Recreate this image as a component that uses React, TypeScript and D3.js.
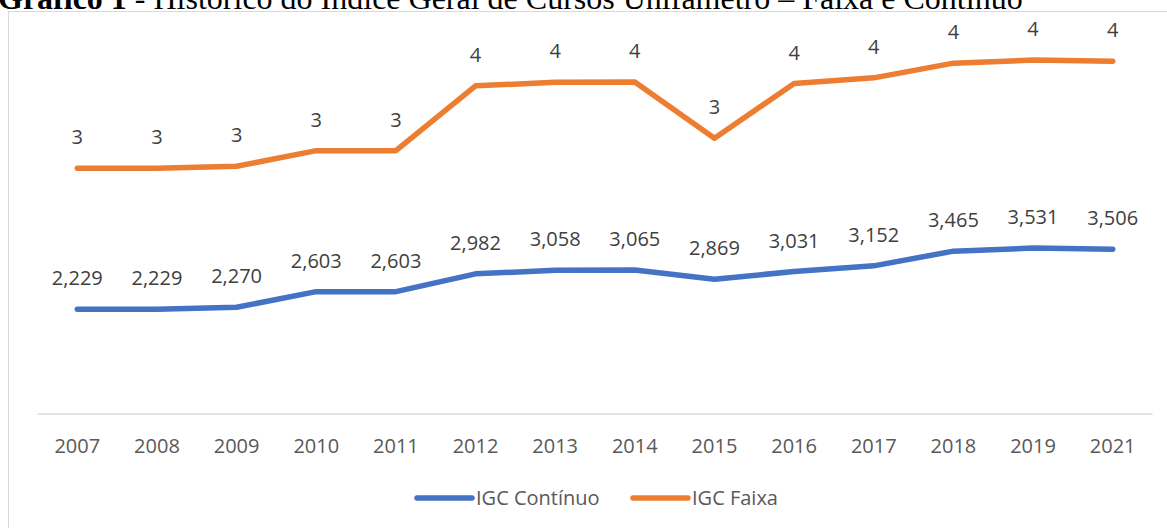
import { useRef, useEffect } from 'react'
import * as d3 from 'd3'

const years = ['2007', '2008', '2009', '2010', '2011', '2012', '2013', '2014', '2015', '2016', '2017', '2018', '2019', '2021']
const igcContinuo = [2.229, 2.229, 2.27, 2.603, 2.603, 2.982, 3.058, 3.065, 2.869, 3.031, 3.152, 3.465, 3.531, 3.506]
const igcFaixa = [3, 3, 3, 3, 3, 4, 4, 4, 3, 4, 4, 4, 4, 4]
const seriesNames = ['IGC Contínuo', 'IGC Faixa']
const colors = ['#4472C4', '#ED7D31']

const W = 1167
const H = 528
const font = '"Open Sans", "Noto Sans", sans-serif'

export default function App() {
  const svgRef = useRef<SVGSVGElement>(null)

  useEffect(() => {
    const svg = d3.select(svgRef.current)
    svg.selectAll('*').remove()

    // title (cut off at top in the original)
    const title = svg.append('text')
      .attr('x', -2).attr('y', 9)
      .attr('font-family', '"Liberation Serif", "Times New Roman", serif')
      .attr('font-size', 32)
      .attr('fill', '#000')
    title.append('tspan').attr('font-weight', 'bold').text('Gráfico 1')
    title.append('tspan').text(' - Histórico do Índice Geral de Cursos Unifametro – Faixa e Contínuo')

    // chart frame
    svg.append('rect')
      .attr('x', 8.5).attr('y', 11.5)
      .attr('width', W).attr('height', H)
      .attr('fill', 'none').attr('stroke', '#d9d9d9')

    const x = d3.scaleBand().domain(years).range([37.5, 1152.5])
    const y = d3.scaleLinear().domain([0, 8]).range([414, 38])
    const cx = (d: string) => (x(d) as number) + x.bandwidth() / 2

    const table = years.map((yr, i) => ({ year: yr, c: igcContinuo[i], f: igcFaixa[i] }))
    const stacked = d3.stack<any>().keys(['c', 'f'])(table)

    // baseline axis
    svg.append('line')
      .attr('x1', 37.5).attr('x2', 1152.5)
      .attr('y1', y(0)).attr('y2', y(0))
      .attr('stroke', '#d9d9d9').attr('stroke-width', 1.5)

    svg.append('g')
      .selectAll('text')
      .data(years)
      .join('text')
      .attr('x', d => cx(d))
      .attr('y', 453)
      .attr('text-anchor', 'middle')
      .attr('font-family', font)
      .attr('font-size', 20)
      .attr('fill', '#595959')
      .text(d => d)

    const lineGen = d3.line<any>()
      .x(d => cx(d.data.year))
      .y(d => y(d[1]))

    const fmt = d3.formatLocale({ decimal: ',', thousands: '.', grouping: [3], currency: ['', ''] }).format('.3f')

    stacked.forEach((s, si) => {
      svg.append('path')
        .datum(s)
        .attr('d', lineGen)
        .attr('fill', 'none')
        .attr('stroke', colors[si])
        .attr('stroke-width', 5.5)
        .attr('stroke-linecap', 'round')
        .attr('stroke-linejoin', 'round')

      svg.append('g')
        .selectAll('text')
        .data(s)
        .join('text')
        .attr('x', d => cx(d.data.year))
        .attr('y', d => y(d[1]) - 24)
        .attr('text-anchor', 'middle')
        .attr('font-family', font)
        .attr('font-size', 20)
        .attr('fill', '#404040')
        .text(d => si === 0 ? fmt(d.data.c) : String(d.data.f))
    })

    // legend
    const legendX = [417, 633]
    seriesNames.forEach((name, i) => {
      const g = svg.append('g')
      g.append('line')
        .attr('x1', legendX[i]).attr('x2', legendX[i] + 55)
        .attr('y1', 498).attr('y2', 498)
        .attr('stroke', colors[i]).attr('stroke-width', 5.5)
        .attr('stroke-linecap', 'round')
      g.append('text')
        .attr('x', legendX[i] + 59).attr('y', 505)
        .attr('font-family', font)
        .attr('font-size', 20)
        .attr('fill', '#595959')
        .text(name)
    })
  }, [])

  return (
    <div style={{ position: 'absolute', left: 0, top: 0, width: W, height: H, overflow: 'hidden', background: '#fff' }}>
      <svg ref={svgRef} width={W} height={H} />
    </div>
  )
}
